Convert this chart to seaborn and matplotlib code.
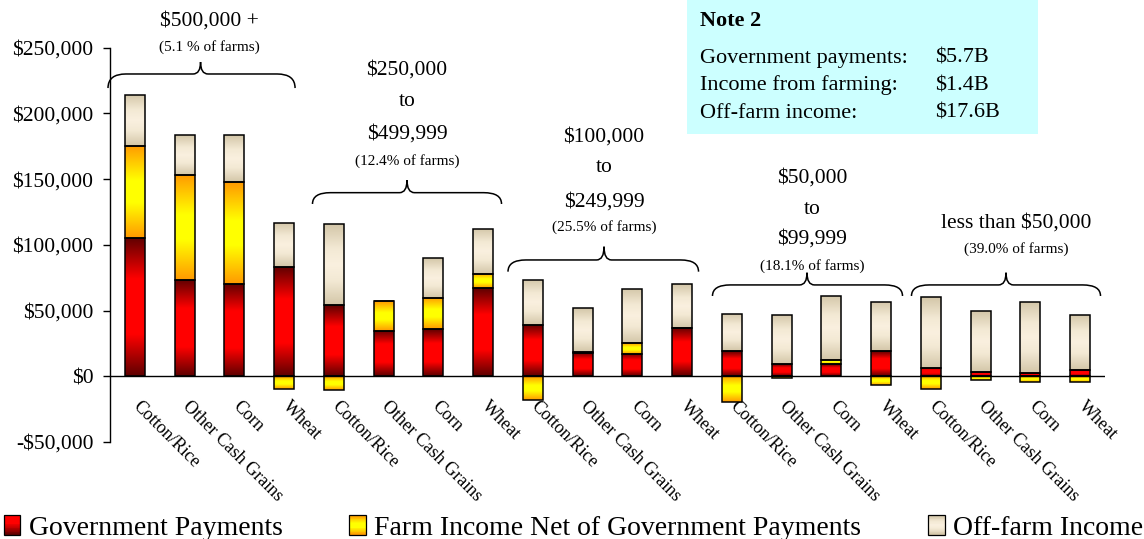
import numpy as np
import pandas as pd
import matplotlib
matplotlib.use("Agg")
import matplotlib.pyplot as plt
import seaborn as sns
from matplotlib.colors import LinearSegmentedColormap
from matplotlib.patches import Rectangle, PathPatch
from matplotlib.path import Path
from matplotlib.legend_handler import HandlerBase
from matplotlib.transforms import ScaledTranslation
from matplotlib.ticker import FuncFormatter

# ---------------- data ----------------
crops = ["Cotton/Rice", "Other Cash Grains", "Corn", "Wheat"]
group_titles = [["$500,000 +"],
                ["$250,000", "to", "$499,999"],
                ["$100,000", "to", "$249,999"],
                ["$50,000", "to", "$99,999"],
                ["less than $50,000"]]
group_shares = ["(5.1 % of farms)", "(12.4% of farms)", "(25.5% of farms)",
                "(18.1% of farms)", "(39.0% of farms)"]

gov_payments = [105000, 73300, 70200, 83400,
                54000, 34700, 35700, 66900,
                39000, 18000, 17000, 36700,
                19000, 9100, 9100, 19000,
                6600, 3500, 2500, 4600]
farm_income = [70000, 80000, 77600, -9700,
               -10100, 22300, 24100, 10900,
               -17700, 600, 8300, 0,
               -19800, -1200, 3300, -6600,
               -9900, -2800, -4100, -4100]
off_farm_income = [39000, 30000, 35600, 33500,
                   61600, 0, 30000, 34500,
                   34300, 33200, 41400, 33300,
                   28600, 37800, 48700, 37800,
                   53500, 46400, 54300, 42300]

legend_labels = ["Government Payments", "Farm Income Net of Government Payments",
                 "Off-farm Income"]
note_title = "Note 2"
note_labels = ["Government payments:", "Income from farming:", "Off-farm income:"]
note_values = ["$5.7B", "$1.4B", "$17.6B"]
y_ticks = [-50000, 0, 50000, 100000, 150000, 200000, 250000]

# ---------------- frame ----------------
bar_ids = [f"{g}|{c}" for g in range(len(group_titles)) for c in crops]
df = pd.DataFrame({
    "bar": bar_ids,
    "crop": [c for _ in group_titles for c in crops],
    "gov": gov_payments,
    "farm": farm_income,
    "off": off_farm_income,
})
df["farm_bottom"] = np.where(df["farm"] >= 0, df["gov"], 0)
df["off_bottom"] = df["gov"] + df["farm"].clip(lower=0)

sns.set_style("white")
plt.rcParams["font.family"] = ["Liberation Serif", "DejaVu Serif"]
plt.rcParams["text.color"] = "black"
plt.rcParams["axes.labelcolor"] = "black"
plt.rcParams["xtick.color"] = "black"
plt.rcParams["ytick.color"] = "black"

W, H = 1144, 539
fig = plt.figure(figsize=(W / 100, H / 100), dpi=100)
ax = fig.add_axes([110 / W, (H - 442) / H, 995 / W, (442 - 47.7) / H])
ax.set_facecolor("none")

cm_gov = LinearSegmentedColormap.from_list(
    "gov", [(0, "#5E0000"), (0.3, "#FF0000"), (0.7, "#FF0000"), (1, "#5E0000")])
cm_farm = LinearSegmentedColormap.from_list(
    "farm", [(0, "#FF9900"), (0.38, "#FFFF00"), (0.62, "#FFFF00"), (1, "#FF9900")])
cm_off = LinearSegmentedColormap.from_list(
    "off", [(0, "#D3C6A8"), (0.3, "#F3E9D4"), (0.5, "#FAF0DF"), (0.7, "#F3E9D4"), (1, "#D3C6A8")])

layers = [("gov", None, cm_gov), ("farm", "farm_bottom", cm_farm), ("off", "off_bottom", cm_off)]
for col, bcol, cm in layers:
    bottom = 0 if bcol is None else df[bcol].to_numpy()
    sns.barplot(data=df, x="bar", y=col, order=bar_ids, bottom=bottom,
                color=cm(0.5), width=0.4, errorbar=None, edgecolor="black",
                linewidth=1.1, ax=ax)

grad = np.linspace(0, 1, 256).reshape(-1, 1)
for container, (_, _, cm) in zip(ax.containers, layers):
    for p in container.patches:
        x0, y0, w, h = p.get_x(), p.get_y(), p.get_width(), p.get_height()
        if h == 0:
            continue
        lo, hi = min(y0, y0 + h), max(y0, y0 + h)
        im = ax.imshow(grad, extent=[x0, x0 + w, lo, hi], origin="lower", cmap=cm,
                       aspect="auto", interpolation="bilinear", zorder=0.9)
        im.set_clip_path(p)
        p.set_facecolor("none")
        p.set_zorder(1.5)

ax.set_xlim(-0.5, len(bar_ids) - 0.5)
ax.set_ylim(-50000, 250000)
ax.set_xlabel("")
ax.set_ylabel("")
ax.axhline(0, color="black", lw=1.0, zorder=1.2)

for s in ["top", "right", "bottom"]:
    ax.spines[s].set_visible(False)
ax.spines["left"].set_color("black")
ax.spines["left"].set_linewidth(1.0)

ax.set_yticks(y_ticks)
ax.yaxis.set_major_formatter(FuncFormatter(
    lambda v, _: f"-${abs(v):,.0f}" if v < 0 else f"${v:,.0f}"))
ax.tick_params(axis="y", left=True, length=5, width=1, color="black",
               labelsize=15.5, pad=7, labelcolor="black")

ax.set_xticks(range(len(bar_ids)))
ax.set_xticklabels(df["crop"], rotation=-45, ha="left", va="top",
                   rotation_mode="anchor", fontsize=13)
ax.tick_params(axis="x", bottom=False, length=0, pad=-32, labelcolor="black")
off = ScaledTranslation(5 / 72, 0, fig.dpi_scale_trans)
for lab in ax.get_xticklabels():
    lab.set_transform(lab.get_transform() + off)

# ---------------- braces and group labels ----------------
def brace(x0, x1, xm, y_tip, y_arm, y_end, rx=0.36, rt=0.15):
    verts = [(x0, y_end), (x0, y_arm), (x0 + rx, y_arm),
             (xm - rt, y_arm), (xm, y_arm), (xm, y_tip),
             (xm, y_arm), (xm + rt, y_arm),
             (x1 - rx, y_arm), (x1, y_arm), (x1, y_end)]
    codes = [Path.MOVETO, Path.CURVE3, Path.CURVE3,
             Path.LINETO, Path.CURVE3, Path.CURVE3,
             Path.CURVE3, Path.CURVE3,
             Path.LINETO, Path.CURVE3, Path.CURVE3]
    ax.add_patch(PathPatch(Path(verts, codes), facecolor="none", edgecolor="black",
                           lw=1.1, clip_on=False, zorder=3))

brace_spec = [(-0.54, 3.22, 1.32, 239100, 230000, 219300),
              (3.57, 7.37, 5.47, 149300, 139700, 131100),
              (7.50, 11.33, 9.43, 98600, 88500, 79600),
              (11.61, 15.43, 13.51, 78800, 69500, 61100),
              (15.61, 19.41, 17.51, 78800, 69500, 61100)]
for spec in brace_spec:
    brace(*spec)

title_x = [1.49, 5.47, 9.43, 13.62, 17.72]
title_y = [[270300], [233000, 209100, 184300], [181800, 158500, 132800],
           [150600, 127100, 104200], [116400]]
share_y = [250500, 163800, 113400, 84100, 96600]
for gx, lines, ys, share, sy in zip(title_x, group_titles, title_y, group_shares, share_y):
    for line, ly in zip(lines, ys):
        ax.text(gx, ly, line, ha="center", va="center", fontsize=15.5,
                clip_on=False, zorder=4)
    ax.text(gx, sy, share, ha="center", va="center", fontsize=11,
            clip_on=False, zorder=4)

# ---------------- note box ----------------
fig.patches.append(Rectangle((687 / W, 1 - 134 / H), 351 / W, 134 / H,
                             transform=fig.transFigure, facecolor="#CCFFFF",
                             edgecolor="none", zorder=5))
fig.text(700 / W, 1 - 21 / H, note_title, fontsize=16, fontweight="bold",
         ha="left", va="center", zorder=6)
for i, (lab, val) in enumerate(zip(note_labels, note_values)):
    yy = 1 - (58 + 27.5 * i) / H
    fig.text(700 / W, yy, lab, fontsize=16, ha="left", va="center", zorder=6)
    fig.text(935 / W, yy, val, fontsize=16, ha="left", va="center", zorder=6)

# ---------------- legend ----------------
class GradHandler(HandlerBase):
    def __init__(self, cmap, lo=0.5, hi=1.0):
        super().__init__()
        self.cmap, self.lo, self.hi = cmap, lo, hi

    def create_artists(self, legend, orig_handle, xdescent, ydescent, width,
                       height, fontsize, trans):
        n = 24
        arts = []
        for k in range(n):
            t = self.lo + (self.hi - self.lo) * k / (n - 1)
            arts.append(Rectangle((-xdescent, -ydescent + height * k / n), width,
                                  height / n * 1.05, facecolor=self.cmap(t),
                                  edgecolor="none", transform=trans))
        arts.append(Rectangle((-xdescent, -ydescent), width, height,
                              facecolor="none", edgecolor="black", lw=0.9,
                              transform=trans))
        return arts

handles = [Rectangle((0, 0), 1, 1) for _ in legend_labels]
hmap = {handles[0]: GradHandler(cm_gov, 0.0, 0.5),
        handles[1]: GradHandler(cm_farm, 0.0, 1.0),
        handles[2]: GradHandler(cm_off, 0.0, 1.0)}
leg = fig.legend(handles, legend_labels, handler_map=hmap, loc="lower left",
                 bbox_to_anchor=(0.002, -0.006), ncol=3, frameon=False, fontsize=20,
                 handlelength=0.6, handleheight=0.7, handletextpad=0.3,
                 columnspacing=2.4, borderaxespad=0, borderpad=0.05)
for t in leg.get_texts():
    t.set_color("black")

fig.savefig("out.png", dpi=100)
